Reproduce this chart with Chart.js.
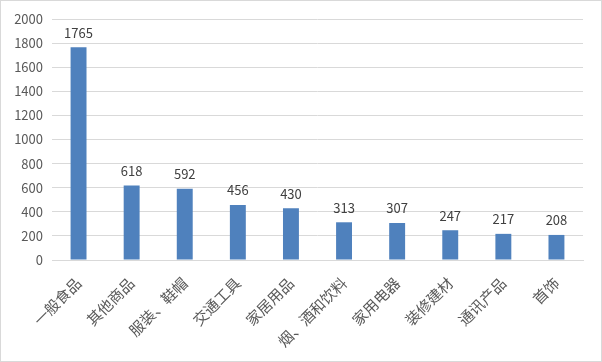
<!DOCTYPE html>
<html>
<head>
<meta charset="utf-8">
<script src="https://cdn.jsdelivr.net/npm/chart.js@4"></script>
<style>
  body { margin: 0; background: #fff; }
  #wrap { position: absolute; left: 0; top: 0; width: 600px; height: 360px; border: 1px solid #d9d9d9; }
</style>
</head>
<body>
<div id="wrap"><canvas id="chart" width="600" height="360"></canvas></div>
<script>
const categories = ["一般食品", "其他商品", "服装、鞋帽", "交通工具", "家居用品", "烟、酒和饮料", "家用电器", "装修建材", "通讯产品", "首饰"];
const values = [1765, 618, 592, 456, 430, 313, 307, 247, 217, 208];
const yTicks = [0, 200, 400, 600, 800, 1000, 1200, 1400, 1600, 1800, 2000];

const fontFamily = "'Noto Sans CJK SC', 'DejaVu Sans', sans-serif";

// draw the value above each bar
const barLabels = {
  id: "barLabels",
  afterDatasetsDraw(chart) {
    const c = chart.ctx;
    const meta = chart.getDatasetMeta(0);
    c.save();
    c.fillStyle = "#404040";
    c.font = "13px " + fontFamily;
    c.textAlign = "center";
    c.textBaseline = "bottom";
    meta.data.forEach((bar, i) => {
      c.fillText(values[i], bar.x, bar.y - 8);
    });
    c.restore();
  }
};

new Chart(document.getElementById("chart").getContext("2d"), {
  type: "bar",
  data: {
    labels: categories,
    datasets: [{
      data: values,
      backgroundColor: "#4f81bd",
      barPercentage: 0.6,
      categoryPercentage: 0.5
    }]
  },
  options: {
    responsive: false,
    animation: false,
    layout: { padding: { top: 18, right: 18, left: 0, bottom: 0 } },
    plugins: {
      legend: { display: false },
      tooltip: { enabled: false }
    },
    scales: {
      x: {
        grid: { display: false, drawTicks: false },
        border: { color: "#d9d9d9" },
        ticks: {
          color: "#595959",
          font: { family: fontFamily, size: 15 },
          maxRotation: 45,
          minRotation: 45,
          autoSkip: false,
          padding: 14
        },
        afterFit(scale) { scale.height = 101; }
      },
      y: {
        min: 0,
        max: 2000,
        afterBuildTicks(scale) { scale.ticks = yTicks.map(v => ({ value: v })); },
        grid: { color: "#d9d9d9", drawTicks: false },
        border: { display: false },
        ticks: {
          color: "#595959",
          font: { family: fontFamily, size: 13 },
          padding: 9,
          callback: v => String(v)
        },
        afterFit(scale) { scale.width = 51; }
      }
    }
  },
  plugins: [barLabels]
});
</script>
</body>
</html>
